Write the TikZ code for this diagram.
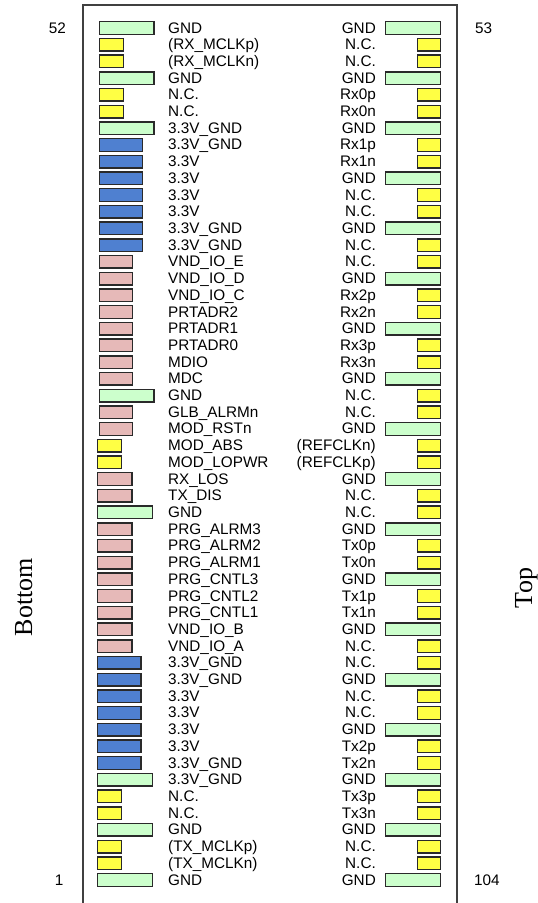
\documentclass[tikz,border=0pt]{standalone}
\usepackage{fontspec}
\setmainfont{Liberation Sans}
\newfontfamily\serifx{Liberation Serif}
\definecolor{cg}{HTML}{CCFFCC}
\definecolor{cy}{HTML}{FFFF44}
\definecolor{cb}{HTML}{4F80D0}
\definecolor{cp}{HTML}{E6B9B8}
\definecolor{bline}{HTML}{2A2A2A}
\definecolor{fline}{HTML}{404040}
\begin{document}
\begin{tikzpicture}[x=1pt,y=-1pt,
  pinbox/.style={draw=bline, line width=1.4pt, inner sep=0pt, minimum height=12.6pt},
  lab/.style={font=\fontsize{15.3}{16}\selectfont, inner sep=0pt, text=black},
  side/.style={font=\serifx\fontsize{26}{28}\selectfont, inner sep=0pt, rotate=90, anchor=base},
  framel/.style={draw=fline, line width=2pt}]
\useasboundingbox (0,0) rectangle (538,903);
% frame
\coordinate (fbl) at (82.7,903);
\coordinate (ftl) at (82.7,5);
\coordinate (ftr) at (456.7,5);
\coordinate (fbr) at (456.7,903);
\draw[framel] (fbl) -- (ftl) -- (ftr) -- (fbr);
% left column (pins 52 down to 1)
\foreach \lab/\typ [count=\i] in {GND/g,{(RX\_MCLKp)}/y,{(RX\_MCLKn)}/y,GND/g,N.C./y,N.C./y,
  3.3V\_GND/g,3.3V\_GND/b,3.3V/b,3.3V/b,3.3V/b,3.3V/b,3.3V\_GND/b,3.3V\_GND/b,
  VND\_IO\_E/p,VND\_IO\_D/p,VND\_IO\_C/p,PRTADR2/p,PRTADR1/p,PRTADR0/p,MDIO/p,MDC/p,
  GND/g,GLB\_ALRMn/p,MOD\_RSTn/p,MOD\_ABS/y,MOD\_LOPWR/y,RX\_LOS/p,TX\_DIS/p,GND/g,
  PRG\_ALRM3/p,PRG\_ALRM2/p,PRG\_ALRM1/p,PRG\_CNTL3/p,PRG\_CNTL2/p,PRG\_CNTL1/p,
  VND\_IO\_B/p,VND\_IO\_A/p,3.3V\_GND/b,3.3V\_GND/b,3.3V/b,3.3V/b,3.3V/b,3.3V/b,
  3.3V\_GND/b,3.3V\_GND/g,N.C./y,N.C./y,GND/g,{(TX\_MCLKp)}/y,{(TX\_MCLKn)}/y,GND/g}{
  \pgfmathsetmacro\yc{28+(\i-1)*16.706}
  \ifnum\i>25 \def\lx{96.2}\else\def\lx{98}\fi
  \if g\typ \def\w{54.6}\def\c{cg}\fi
  \if y\typ \def\w{23.8}\def\c{cy}\fi
  \if b\typ \def\w{43.2}\def\c{cb}\fi
  \if p\typ \ifnum\i>25 \def\w{34.4}\else\def\w{32.8}\fi\def\c{cp}\fi
  \node[pinbox, anchor=west, minimum width=\w pt, fill=\c] (L\i) at ({\lx+0.7},\yc) {};
  \node[lab, anchor=base west] (LT\i) at (168,{\yc+5}) {\lab};
}
% right column (pins 53 to 104)
\foreach \lab/\typ [count=\i] in {GND/g,N.C./y,N.C./y,GND/g,Rx0p/y,Rx0n/y,GND/g,Rx1p/y,Rx1n/y,
  GND/g,N.C./y,N.C./y,GND/g,N.C./y,N.C./y,GND/g,Rx2p/y,Rx2n/y,GND/g,Rx3p/y,Rx3n/y,
  GND/g,N.C./y,N.C./y,GND/g,{(REFCLKn)}/y,{(REFCLKp)}/y,GND/g,N.C./y,N.C./y,
  GND/g,Tx0p/y,Tx0n/y,GND/g,Tx1p/y,Tx1n/y,GND/g,N.C./y,N.C./y,GND/g,N.C./y,N.C./y,
  GND/g,Tx2p/y,Tx2n/y,GND/g,Tx3p/y,Tx3n/y,GND/g,N.C./y,N.C./y,GND/g}{
  \pgfmathsetmacro\yc{28+(\i-1)*16.706}
  \if g\typ \def\w{54.6}\def\c{cg}\fi
  \if y\typ \def\w{22.6}\def\c{cy}\fi
  \node[pinbox, anchor=east, minimum width=\w pt, fill=\c] (R\i) at (441,\yc) {};
  \node[lab, anchor=base east] (RT\i) at (376,{\yc+5}) {\lab};
}
% pin numbers
\node[lab, anchor=base east] (n52) at (66,33) {52};
\node[lab, anchor=base east] (n1) at (63.5,885) {1};
\node[lab, anchor=base west] (n53) at (475,33) {53};
\node[lab, anchor=base west] (n104) at (474,885) {104};
% side labels
\node[side] (bottomlab) at (32,597) {Bottom};
\node[side] (toplab) at (532,588) {Top};
\end{tikzpicture}
\end{document}
